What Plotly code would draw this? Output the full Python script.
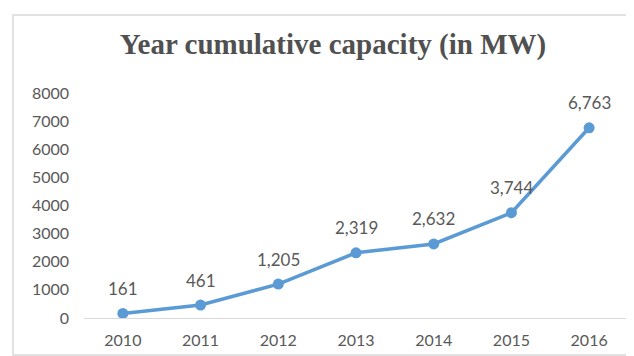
import plotly.graph_objects as go

years = ["2010", "2011", "2012", "2013", "2014", "2015", "2016"]
capacity = [161, 461, 1205, 2319, 2632, 3744, 6763]
y_ticks = [0, 1000, 2000, 3000, 4000, 5000, 6000, 7000, 8000]

W, H = 634, 356
L, R, T, B = 76, 14, 85, 46
pw, ph = W - L - R, H - T - B

def px_x(p):
    return (p - L) / pw

def px_y(p):
    return (H - B - p) / ph

fig = go.Figure()
fig.add_trace(go.Scatter(
    x=years, y=capacity, mode="lines+markers",
    line=dict(color="#5B9BD5", width=3.5),
    marker=dict(color="#5B9BD5", size=11),
    hoverinfo="skip",
))

for i, v in enumerate(capacity):
    fig.add_annotation(x=i, y=v, text=f"{v:,}", showarrow=False,
                       yshift=25, font=dict(family="Lato", size=17, color="#595959"))

fig.add_shape(type="rect", xref="paper", yref="paper",
              x0=px_x(5), x1=px_x(628), y0=px_y(347), y1=px_y(7),
              line=dict(color="#D9D9D9", width=1.5), layer="below")

fig.update_layout(
    width=W, height=H,
    margin=dict(l=L, r=R, t=T, b=B),
    paper_bgcolor="white", plot_bgcolor="white",
    showlegend=False,
    title=dict(text="<b>Year cumulative capacity (in MW)</b>",
               font=dict(family="Liberation Serif", size=29, color="#505050"),
               x=325 / W, xanchor="center",
               y=1 - 36 / H, yanchor="middle"),
    font=dict(family="Lato", size=16, color="#595959"),
)
fig.update_xaxes(type="category", range=[-0.5, 6.5], showgrid=False, showline=True,
                 linecolor="#D9D9D9", linewidth=1, ticks="",
                 tickfont=dict(family="Lato", size=16, color="#595959"),
                 ticklabelstandoff=8)
fig.update_yaxes(range=[0, 8000], tickvals=y_ticks, showgrid=False,
                 zeroline=False, showline=False, ticks="",
                 tickfont=dict(family="Lato", size=16, color="#595959"),
                 ticklabelstandoff=14)

fig.write_html("out.html")
